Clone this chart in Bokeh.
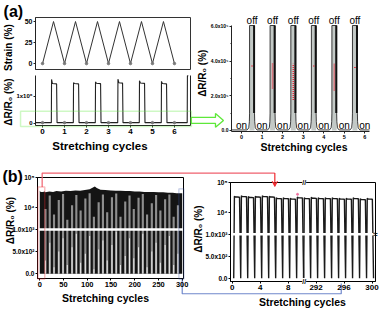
import math
from bokeh.plotting import figure
from bokeh.models import (Range1d, FixedTicker, Label, BoxAnnotation,
                          LinearAxis, Arrow, VeeHead)
from bokeh.embed import file_html
from bokeh.resources import INLINE

FONT = "Liberation Sans"

# ---------------- data ----------------
# (a) left, upper: applied strain over six stretch/release cycles
strain_cycles = [0, 0.5, 1, 1.5, 2, 2.5, 3, 3.5, 4, 4.5, 5, 5.5, 6]
strain_pct = [0, 50, 0, 50, 0, 50, 0, 50, 0, 50, 0, 50, 0]
rest_cycles = [0, 1, 2, 3, 4, 5, 6]
# (a) left, lower: response pulses, dR/R0 (%)
a_on = [0.40, 1.40, 2.40, 3.42, 4.40, 5.40, 6.58]
a_off = [0.66, 1.66, 2.66, 3.66, 4.66, 5.66, 6.80]
a_spike = [1.62e6, 1.50e6, 1.53e6, 1.63e6, 1.57e6, 1.55e6, 1.76e6]
a_plateau = [1.47e6, 1.47e6, 1.48e6, 1.50e6, 1.49e6, 1.47e6, 1.76e6]
a_base = 0.02e6
# (a) right: zoom on the low range
r_on = [0.39, 1.39, 2.40, 3.40, 4.40, 5.40]
r_off = [0.63, 1.63, 2.64, 3.63, 4.63, 5.64]
r_top = 6.05e5
r_base = 0.03e5
r_red_lo = [3.68e5, 2.42e5, 1.75e5, 3.68e5, 2.30e5, 3.60e5]
r_red_hi = [3.80e5, 3.86e5, 3.85e5, 3.80e5, 3.85e5, 3.72e5]
on_cycles = [0, 1, 2, 3, 4, 5, 6]
# (b) left: 300 cycles - envelope of the peaks and the lighter streaks
b_env_cycles = [0, 3, 8, 12, 20, 28, 35, 45, 55, 65, 75, 85, 95, 105, 112, 116,
                120, 128, 138, 150, 160, 170, 180, 190, 200, 210, 220, 230, 240,
                250, 260, 270, 280, 288, 300]
b_env_peak = [3.6e4, 3.3e4, 3.5e4, 3.2e4, 3.4e4, 3.3e4, 3.5e4, 3.4e4, 3.6e4, 3.5e4,
              3.7e4, 3.6e4, 3.8e4, 4.0e4, 4.6e4, 5.0e4, 4.4e4, 3.9e4, 3.8e4, 3.7e4,
              3.6e4, 3.6e4, 3.5e4, 3.5e4, 3.4e4, 3.4e4, 3.3e4, 3.3e4, 3.3e4, 3.2e4,
              3.2e4, 3.1e4, 3.1e4, 3.0e4, 3.0e4]
b_gap_cycles = [12, 21, 30, 40, 49, 58, 68, 77, 86, 96, 105, 114, 124, 133, 142,
                152, 161, 170, 180, 189, 198, 208, 217, 226, 236, 245, 254, 264,
                273, 282, 291]
b_gap_gray = [9e3, 2.5e4, 6e3, 1.8e4, 2.8e4, 4e3, 1.2e4, 2.6e4, 8e3, 2e4, 3e4, 5e3,
              1.5e4, 2.7e4, 7e3, 2.2e4, 2.9e4, 5e3, 1.6e4, 2.5e4, 9e3, 2.1e4, 2.8e4,
              6e3, 1.4e4, 2.6e4, 8e3, 1.9e4, 2.7e4, 5e3, 1.2e4]
b_gap_white = [300, 700, 150, 500, 800, 200, 600, 900, 250, 450, 850, 100, 550, 750,
               300, 650, 950, 200, 400, 800, 350, 600, 900, 150, 500, 700, 250, 650,
               850, 200, 450]
# (b) right: first and last ten cycles
bl_cycles = [0, 1, 2, 3, 4, 5, 6, 7, 8, 9]
bl_peak = [3.4e4, 3.5e4, 3.3e4, 3.4e4, 3.5e4, 3.4e4, 3.0e4, 3.0e4, 2.9e4, 3.2e4]
br_cycles = [290, 291, 292, 293, 294, 295, 296, 297, 298, 299]
br_peak = [3.0e4, 3.1e4, 3.0e4, 3.0e4, 3.0e4, 2.9e4, 2.9e4, 3.0e4, 2.8e4, 2.9e4]
BREAK_SHIFT = 280  # cycles removed by the x-axis break in (b) right

# broken y axis of (b): linear 0..1000, then a log segment
LOG_START = 3.284
DEC = 0.685
b_yticks = [0, 500, 1000, 1e4, 1e5]
b_ylabels = ["0.0", "5.0x10\u00b2", "1.0x10\u00b3", "10\u2074", "10\u2075"]
b2_xticks = [0, 4, 8, 292, 296, 300]


def T(v):
    if v <= 1000:
        return v / 1000.0
    return 1.0 + max(0.0, math.log10(v) - LOG_START) * DEC


# ---------------- layout of the panels (canvas pixels) ----------------
W, H = 382, 309

PANELS = {
    "A1": dict(frame=(35, 190, 17, 69), x=(-0.32, 6.73), y=(-7.1, 54.8)),
    "A2": dict(frame=(35, 190, 75, 125), x=(-0.32, 6.73), y=(-0.085e6, 1.767e6)),
    "A3": dict(frame=(231, 369, 25, 131), x=(-0.49, 6.23), y=(-0.06e5, 6.05e5)),
    "B1": dict(frame=(37, 183, 177, 278), x=(-4.8, 302.7), y=(-0.106, 2.17)),
    "B2": dict(frame=(230, 375, 182, 281), x=(-0.24, 20.5), y=(-0.075, 2.18)),
}

p = figure(width=W, height=H, x_range=Range1d(0, W), y_range=Range1d(H, 0),
           x_axis_type=None, y_axis_type=None, min_border=0,
           output_backend="svg", toolbar_location=None)
p.outline_line_color = None
p.background_fill_color = "white"
p.border_fill_color = "white"

exx, exy = {}, {}
for name, d in PANELS.items():
    L, R, Tp, Bt = d["frame"]
    x0, x1 = d["x"]
    y0, y1 = d["y"]
    sx = (x1 - x0) / (R - L)
    sy = (y1 - y0) / (Bt - Tp)
    exx[name] = Range1d(x0 - L * sx, x1 + (W - R) * sx)
    exy[name] = Range1d(y0 - (H - Bt) * sy, y1 + Tp * sy)
p.extra_x_ranges = exx
p.extra_y_ranges = exy


def px(name, x, y):
    d = PANELS[name]
    L, R, Tp, Bt = d["frame"]
    x0, x1 = d["x"]
    y0, y1 = d["y"]
    return (L + (x - x0) / (x1 - x0) * (R - L), Bt - (y - y0) / (y1 - y0) * (Bt - Tp))


def K(name):
    return dict(x_range_name=name, y_range_name=name)


def axis(name, side, ticks, fs, labels=None, minor=None, color="#222222"):
    d = PANELS[name]
    if side == "left":
        loc, bounds = d["x"][0], d["y"]
    else:
        loc, bounds = d["y"][0], d["x"]
    ax = LinearAxis(fixed_location=loc, bounds=bounds,
                    ticker=FixedTicker(ticks=ticks, minor_ticks=minor or []),
                    major_label_text_font=FONT, major_label_text_font_style="bold",
                    major_label_text_font_size=f"{fs}px", major_label_standoff=1,
                    major_label_text_color="black",
                    major_tick_in=0, major_tick_out=2, minor_tick_in=0,
                    minor_tick_out=1, axis_line_color=color,
                    major_tick_line_color=color, minor_tick_line_color=color,
                    **K(name))
    if labels is not None:
        ax.major_label_overrides = {t: s for t, s in zip(ticks, labels)}
    p.add_layout(ax, side)


def box(name, color="#222222", width=1.0):
    x0, x1 = PANELS[name]["x"]
    y0, y1 = PANELS[name]["y"]
    p.quad(left=[x0], right=[x1], bottom=[y0], top=[y1], fill_color=None,
           line_color=color, line_width=width, **K(name))


def txt(name, x, y, s, size, bold=True, angle=0.0, align="center",
        baseline="middle", color="black", bg=None):
    lab = Label(x=x, y=y, text=s, text_font=FONT, text_font_size=f"{size}px",
                text_font_style="bold" if bold else "normal", angle=angle,
                text_align=align, text_baseline=baseline, text_color=color,
                **K(name))
    if bg is not None:
        lab.background_fill_color = bg
    p.add_layout(lab)


GREEN = "#5ee83a"
RED = "#f0282d"
PINK = "#f0606e"
BLUE = "#3a55a8"
LBLUE = "#7088cc"

# ---------------- (a) left, strain ----------------
p.line(strain_cycles, strain_pct, line_color="#333333", line_width=1, **K("A1"))
p.scatter(rest_cycles, [0] * len(rest_cycles), size=2.5, color="#777777", **K("A1"))
box("A1", "#333333")
axis("A1", "left", [0, 25, 50], 7)
txt("A1", -1.77, 72, "(a)", 16, align="left", baseline="top")
txt("A1", -1.57, 19, "Strain (%)", 10, angle=math.pi / 2)

# ---------------- (a) left, response ----------------
ax_, ay_ = [-0.32], [a_base]
for on, off, sp, pl in zip(a_on, a_off, a_spike, a_plateau):
    ax_ += [on, on + 0.01, on + 0.05, off - 0.02, off]
    ay_ += [a_base, sp, pl, pl * 0.99, a_base]
ax_, ay_ = ax_[:-2], ay_[:-2]
p.line(ax_, ay_, line_color="#222222", line_width=1.1, **K("A2"))
p.scatter(rest_cycles, [a_base] * len(rest_cycles), size=2.5, color="#777777",
          **K("A2"))
p.segment(x0=[6.73], y0=[-0.085e6], x1=[6.73], y1=[1.767e6],
          line_color="#222222", line_width=1, **K("A2"))
axis("A2", "below", [0, 1, 2, 3, 4, 5, 6], 8)
axis("A2", "left", [0, 1e6], 6, ["0", "1x10\u2076"])
p.add_layout(BoxAnnotation(left=-1.0, right=6.77, bottom=-0.12e6, top=0.44e6,
                           fill_color=None, line_color=GREEN, line_width=1.5,
                           **K("A2")))
txt("A2", -1.55, 0.78e6, "\u0394R/R\u2080 (%)", 10, angle=math.pi / 2)
txt("A2", 2.61, -0.86e6, "Stretching cycles", 11.5)

# ---------------- (a) right ----------------
p.quad(left=r_on, right=r_off, bottom=0, top=r_top, fill_color="#c3c9c6",
       line_color=None, **K("A3"))
rx, ry = [-0.49], [r_base]
for on, off in zip(r_on, r_off):
    rx += [on - 0.12, on - 0.04, on - 0.01, on, on, off, off, off + 0.01,
           off + 0.04, off + 0.12]
    ry += [r_base, 0.15e5, 0.5e5, 1.0e5, r_top, r_top, 1.0e5, 0.5e5, 0.15e5,
           r_base]
rx.append(6.23)
ry.append(r_base)
p.line(rx, ry, line_color="#3a3a3a", line_width=1, **K("A3"))
p.segment(x0=[o - 0.02 for o in r_off], y0=[1.0e5] * 6,
          x1=[o - 0.02 for o in r_off], y1=[r_top] * 6,
          line_color="#111111", line_width=2, **K("A3"))
mid = [(a + b) / 2 for a, b in zip(r_on, r_off)]
p.segment(x0=mid, y0=r_red_lo, x1=mid, y1=r_red_hi, line_color="#e8283a",
          line_width=1.6, line_dash="1 1", **K("A3"))
axis("A3", "below", [0, 1, 2, 3, 4, 5, 6], 5.5)
axis("A3", "left", [0, 2e5, 4e5, 6e5], 5,
     ["0.0", "2.0x10\u2075", "4.0x10\u2075", "6.0x10\u2075"],
     minor=[1e5, 3e5, 5e5])
for m in mid:
    txt("A3", m, 6.35e5, "off", 10, bold=False)
for c in on_cycles:
    txt("A3", c, 0.3e5, "on", 10, bold=False)
# hollow green arrow pointing from the boxed region of (a) left into (a) right
cy, hs, hh = 0.58e5, 0.17e5, 0.40e5
p.patch(x=[-2.45, -1.27, -1.27, -0.88, -1.27, -1.27, -2.45],
        y=[cy + hs, cy + hs, cy + hh, cy, cy - hh, cy - hs, cy - hs],
        fill_color="white", line_color=GREEN, line_width=1.3, **K("A3"))
txt("A3", -1.9, 3.3e5, "\u0394R/R\u2080 (%)", 10, angle=math.pi / 2)
txt("A3", 3.04, -0.95e5, "Stretching cycles", 10.5)

# ---------------- (b) left ----------------
bt = [round(T(v), 5) for v in b_yticks]
p.varea(x=b_env_cycles, y1=[0] * len(b_env_cycles),
        y2=[T(v) for v in b_env_peak], fill_color="#141414", **K("B1"))
p.vbar(x=b_gap_cycles, width=4.5, bottom=0, top=[T(v) for v in b_gap_gray],
       fill_color="#8e8e8e", line_color=None, **K("B1"))
p.vbar(x=b_gap_cycles, width=2.2, bottom=0, top=[T(v) for v in b_gap_white],
       fill_color="#e6e6e6", line_color=None, **K("B1"))
p.quad(left=[1.5], right=[8.5], bottom=[T(3.3e4)], top=[T(4.6e4)],
       fill_color="white", line_color=None, **K("B1"))
p.segment(x0=[-4.8], y0=[1.0], x1=[302.7], y1=[1.0], line_color="white",
          line_width=2.5, **K("B1"))
box("B1", "black")
axis("B1", "below", [0, 50, 100, 150, 200, 250, 300], 7.5, color="black")
axis("B1", "left", bt, 6.5, b_ylabels, color="black")
p.add_layout(BoxAnnotation(left=-3.8, right=10.5, bottom=-0.12, top=T(4.8e4),
                           fill_color=None, line_color=RED, line_width=1.5,
                           **K("B1")))
p.add_layout(BoxAnnotation(left=293, right=303.5, bottom=-0.12, top=1.914,
                           fill_color=None, line_color=BLUE, line_width=1.3,
                           **K("B1")))
txt("B1", -78.6, 2.39, "(b)", 16, align="left", baseline="top")
txt("B1", -61.7, 1.2, "\u0394R/R\u2080 (%)", 10, angle=math.pi / 2)
txt("B1", 138.4, -0.545, "Stretching cycles", 10.5)

# ---------------- (b) right ----------------


def pulse_trace(cycles, peaks, shift):
    xs, ys = [], []
    for c, pk in zip(cycles, peaks):
        x0 = c - shift
        xs += [x0 + 0.22, x0 + 0.32, x0 + 0.42, x0 + 1.05]
        ys += [0.0, T(pk * 1.05), T(pk), T(pk * 0.97)]
    xs.append(cycles[-1] - shift + 1.22)
    ys.append(0.0)
    return xs, ys


lx, ly = pulse_trace(bl_cycles, bl_peak, 0)
hx, hy = pulse_trace(br_cycles, br_peak, BREAK_SHIFT)
p.line(lx, ly, line_color="#1a1a1a", line_width=1.4, **K("B2"))
p.line(hx, hy, line_color="#1a1a1a", line_width=1.4, **K("B2"))
p.scatter([9.35], [1.91], size=2, color="#f070a0", **K("B2"))
p.segment(x0=[-0.24], y0=[1.0], x1=[20.5], y1=[1.0], line_color="white",
          line_width=2.5, **K("B2"))
box("B2", "black")
xt_pos = [c if c < 100 else c - BREAK_SHIFT for c in b2_xticks]
axis("B2", "below", xt_pos, 8, [str(c) for c in b2_xticks], color="black")
axis("B2", "left", bt, 6.5, b_ylabels, color="black")
txt("B2", 10.3, 2.18, "//", 7, bg="white")
txt("B2", 10.3, -0.075, "//", 7, bg="white")
txt("B2", 20.5, 1.0, "\u2248", 8)
txt("B2", -4.75, 1.12, "\u0394R/R\u2080 (%)", 10, angle=math.pi / 2)
txt("B2", 10.04, -0.533, "Stretching cycles", 10.5)

# ---------------- connectors between (b) panels ----------------
r0 = px("B1", 5, T(4.8e4))
r1 = px("B1", 5, 2.27)
r3 = px("B2", 6.1, 2.09)
r2 = (r3[0], r1[1])
p.line([r0[0], r1[0], r2[0]], [r0[1], r1[1], r2[1]], line_color=PINK, line_width=1.2)
p.add_layout(Arrow(x_start=r2[0], y_start=r2[1], x_end=r3[0], y_end=r3[1],
                   line_color=RED, line_width=1.2, start=None,
                   end=VeeHead(size=5, line_color=RED, line_width=1,
                               fill_color=RED)))
q0 = px("B1", 300, -0.12)
q1 = px("B1", 300, -0.45)
q3 = px("B2", 15.6, -0.12)
q2 = (q3[0], q1[1])
p.line([q0[0], q1[0], q2[0], q3[0]], [q0[1], q1[1], q2[1], q3[1]],
       line_color=LBLUE, line_width=1.2)

open("out.html", "w").write(file_html(p, INLINE))
